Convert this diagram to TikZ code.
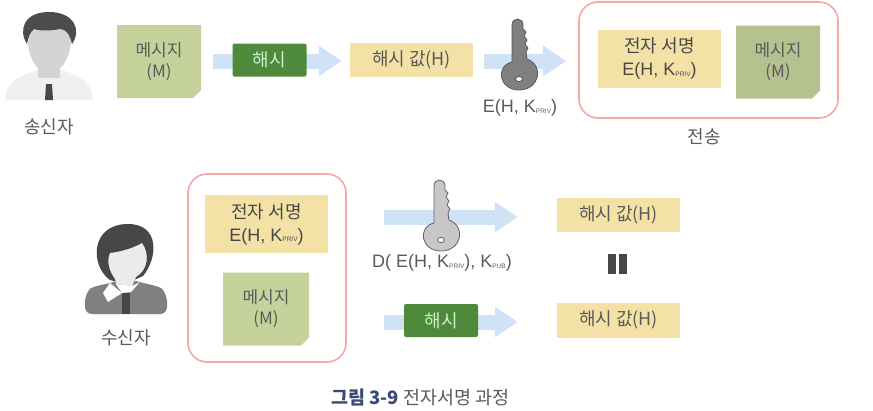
\documentclass[tikz,border=0pt]{standalone}
\usepackage{fontspec}
\setmainfont{Noto Sans CJK KR}
\newfontfamily\latfont{Liberation Sans}
\usetikzlibrary{arrows.meta,shapes.misc}
\definecolor{msgc}{HTML}{C6D29C}
\definecolor{sigc}{HTML}{F3E1A6}
\definecolor{hashc}{HTML}{4F8A3C}
\definecolor{arrc}{HTML}{D0E3F6}
\definecolor{redc}{HTML}{F2A8A8}
\definecolor{txtc}{HTML}{5A5A5A}
\definecolor{navyc}{HTML}{3A4A78}
\newcommand{\ksub}[1]{\raisebox{-0.5pt}{\fontsize{6.5}{6.5}\selectfont #1}}
\newcommand{\sigtext}{{\latfont E(H, K\ksub{PRIV})}}
\tikzset{
  x=1pt,y=-1pt,
  msgbox/.style={chamfered rectangle,chamfered rectangle corners=south east,chamfered rectangle xsep=4pt,chamfered rectangle ysep=4pt,fill=msgc,draw=none,minimum width=84pt,minimum height=73pt,inner sep=0pt,align=center,text=txtc,font=\fontsize{17}{21}\selectfont},
  sigbox/.style={rectangle,fill=sigc,minimum width=123pt,minimum height=58pt,inner sep=0pt,align=center,text=txtc!80!black,font=\fontsize{18}{23}\selectfont},
  valbox/.style={rectangle,fill=sigc,minimum width=123pt,minimum height=34pt,inner sep=0pt,text=txtc,font=\fontsize{18}{18}\selectfont},
  hashbox/.style={rectangle,rounded corners=2pt,fill=hashc,minimum width=74pt,minimum height=33pt,inner sep=0pt,text=green!10!white!85!hashc,font=\fontsize{18}{18}\selectfont},
  redbox/.style={rectangle,rounded corners=19pt,draw=redc,line width=1.6pt,fill=white,inner sep=0pt},
  lbl/.style={text=txtc,inner sep=0pt,font=\fontsize{18}{18}\selectfont},
  klbl/.style={text=txtc,inner sep=0pt,font=\latfont\fontsize{18}{18}\selectfont},
  blockarrow/.style={draw=arrc,line width=15pt,-{Triangle[length=23pt,width=29pt,fill=arrc]}},
  pics/keyshape/.style={code={
    \path[pic actions] (-7,-12) -- (-7,-49) .. controls (-7,-57) and (4,-57) .. (4,-49) -- (4,-45) -- (7,-42) -- (5,-38) -- (8,-34) -- (6,-30) -- (9,-26) -- (7,-22) -- (8,-15)
      .. controls (26,-8) and (20,16) .. (0,16) .. controls (-20,16) and (-24,-8) .. (-7,-12) -- cycle;
    \path[fill=white,draw=#1,line width=.8pt] (0,5) ellipse [x radius=3.4pt,y radius=2.6pt];
  }}
}
\begin{document}
\begin{tikzpicture}
\useasboundingbox[fill=white] (0,0) rectangle (873,410);

% sender figure
\fill[black!6] (5,100) .. controls (6,82) and (18,76) .. (38,70) -- (62,70) .. controls (80,76) and (92,82) .. (93,100) -- cycle;
\fill[black!17] (38,58) rectangle (60,78);
\fill[black!17] (28,32) .. controls (28,20) and (71,20) .. (71,32) .. controls (73,55) and (62,73) .. (49,73) .. controls (36,73) and (26,55) .. (28,32) -- cycle;
\fill[black!70] (27,44) .. controls (18,30) and (24,12) .. (49,12) .. controls (74,12) and (82,30) .. (72,44) .. controls (70,36) and (68,30) .. (60,29) .. controls (50,31) and (40,31) .. (34,29) .. controls (30,32) and (28,38) .. (27,44) -- cycle;
\fill[black!72] (46,84) -- (52,84) -- (53,100) -- (45,100) -- cycle;

% receiver figure
\fill[black!50,rounded corners=7pt] (85,314) -- (85,295) .. controls (92,286) and (108,284) .. (118,280) -- (134,280) .. controls (146,284) and (160,286) .. (167,295) -- (167,314) -- cycle;
\fill[black!72] (122,293) rectangle (130,314);
\fill[black!72] (110,280) .. controls (90,266) and (90,224) .. (128,224) .. controls (160,224) and (158,258) .. (143,276) -- (125,284) -- cycle;
\fill[black!8] (110,253) .. controls (120,252) and (134,248) .. (142,243) .. controls (150,254) and (148,270) .. (136,277) -- (132,286) -- (116,284) -- (115,279) .. controls (110,272) and (106,262) .. (110,253) -- cycle;
\fill[white] (110,283) -- (103,293) -- (108,302) -- (122,293) -- cycle;
\fill[white] (122,293) -- (116,284) -- (132,286) -- (140,282) -- (131,292) -- cycle;

% boxes of the upper row
\node[msgbox] (m1) at (159,61.5) {메시지\\(M)};
\node[valbox] (v1) at (411.5,60) {해시 값(H)};
\node[redbox,minimum width=259pt,minimum height=116pt] (r1) at (708.5,60) {};
\node[sigbox] (s1) at (659.5,58.5) {전자 서명\\\sigtext};
\node[msgbox,fill=msgc!92!black] (m2) at (778,62) {메시지\\(M)};
\node[lbl] (l1) at (49,127) {송신자};
\node[lbl] (l2) at (704,137) {전송};

% boxes of the lower row
\node[redbox,minimum width=158pt,minimum height=188pt] (r2) at (267,268) {};
\node[sigbox] (s2) at (266.5,224) {전자 서명\\\sigtext};
\node[msgbox,minimum width=86pt] (m3) at (266,309) {메시지\\(M)};
\node[lbl] (l3) at (126,338) {수신자};
\node[valbox] (v2) at (618.5,215) {해시 값(H)};
\node[valbox,minimum height=35pt] (v3) at (618.5,320) {해시 값(H)};

% block arrows
\coordinate (y1) at (0,61);
\coordinate (y3) at (0,217);
\coordinate (y4) at (0,322);
\draw[blockarrow,shorten <=12pt,shorten >=8pt] (m1.east |- y1) -- (v1.west |- y1);
\draw[blockarrow,shorten <=11pt,shorten >=12pt] (v1.east |- y1) -- (r1.west |- y1);
\draw[blockarrow,shorten <=37pt,shorten >=39pt] (r2.east |- y3) -- (v2.west |- y3);
\draw[blockarrow,shorten <=37pt,shorten >=39pt] (r2.east |- y4) -- (v3.west |- y4);

% hash boxes, over the arrows
\node[hashbox] (h1) at (269.5,60) {해시};
\node[hashbox] (h2) at (441,320.5) {해시};

% keys
\pic[fill=black!50,draw=black!65,line width=.8pt] at (519,74) {keyshape={black!70}};
\pic[fill=black!22,draw=black!62,line width=.8pt] at (441,235) {keyshape={black!62}};
\node[klbl] (k1) at (520,108) {E(H, K\ksub{PRIV})};
\node[klbl] (k2) at (442,263) {D( E(H, K\ksub{PRIV}), K\ksub{PUB})};

% equals bars
\fill[black!72] (608,254) rectangle (616,274);
\fill[black!72] (619,254) rectangle (627,274);

% caption
\node[inner sep=0pt,font=\fontsize{18.5}{20}\selectfont,text=txtc] (cap) at (420.5,397) {{\bfseries\color{navyc}그림 3-9} 전자서명 과정};
\end{tikzpicture}
\end{document}
